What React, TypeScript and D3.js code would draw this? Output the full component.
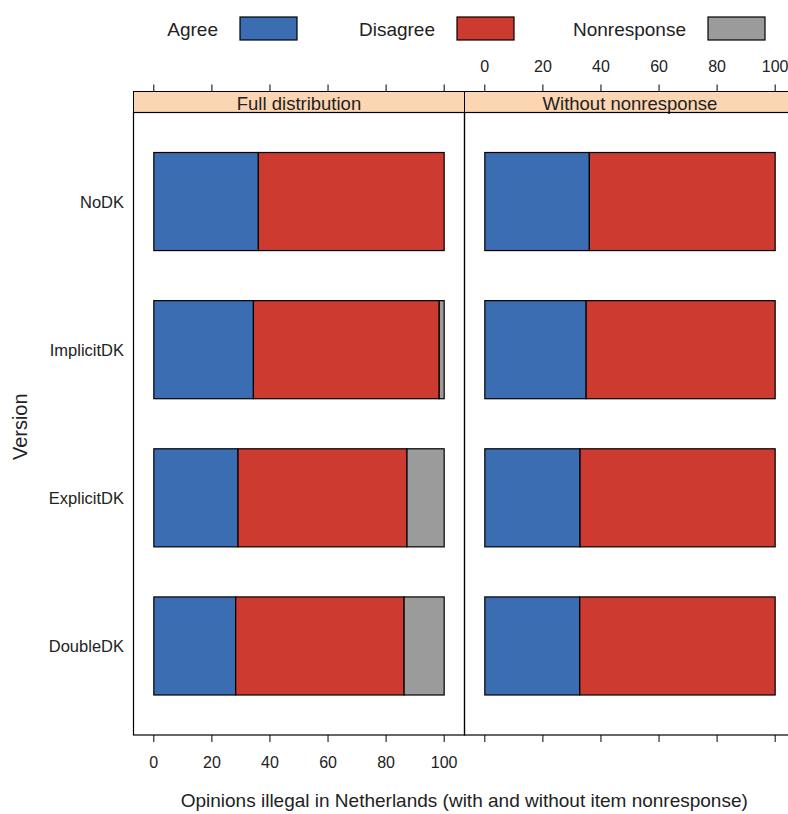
import React from "react";
import * as d3 from "d3";

// ---------- data ----------
const versions = ["NoDK", "ImplicitDK", "ExplicitDK", "DoubleDK"];
const responses = ["Agree", "Disagree", "Nonresponse"];
const fullAgree = [36.0, 34.3, 29.0, 28.2];
const fullDisagree = [64.0, 64.0, 58.2, 58.0];
const fullNonresponse = [0, 1.7, 12.8, 13.8];
const withoutAgree = [36.0, 34.9, 32.8, 32.7];
const withoutDisagree = [64.0, 65.1, 67.2, 67.3];
const withoutNonresponse = [0, 0, 0, 0];
const panelTitles = ["Full distribution", "Without nonresponse"];
const xTicks = [0, 20, 40, 60, 80, 100];
const xTitle = "Opinions illegal in Netherlands (with and without item nonresponse)";
const yTitle = "Version";

// ---------- styles ----------
const colors = ["#3a6db1", "#cc3a30", "#9b9b9b"];
const stripFill = "#fcd6b2";
const FONT = "'Liberation Sans', Arial, sans-serif";

const W = 788;
const H = 814;
const panelTop = 112.5;
const panelBottom = 735;
const stripTop = 91.5;
const panelXs = [
  [133.5, 464.5],
  [464.5, 795.5],
];
const legendBoxX = [240, 457, 708];

const panelData = [
  [fullAgree, fullDisagree, fullNonresponse],
  [withoutAgree, withoutDisagree, withoutNonresponse],
];

export default function App() {
  const y = d3
    .scaleBand<string>()
    .domain(versions)
    .range([panelTop, panelBottom])
    .paddingInner(0.338)
    .paddingOuter(0.27);

  const xScales = panelXs.map(([a, b]) =>
    d3.scaleLinear().domain([-7, 107]).range([a, b])
  );

  return (
    <svg
      width={W}
      height={H}
      style={{ position: "absolute", left: 0, top: 0, background: "#fff" }}
      fontFamily={FONT}
    >
      {/* legend */}
      {responses.map((r, i) => (
        <g key={r}>
          <text
            x={legendBoxX[i] - 22}
            y={29}
            textAnchor="end"
            dominantBaseline="central"
            fontSize={19}
            fill="#222"
          >
            {r}
          </text>
          <rect
            x={legendBoxX[i]}
            y={17}
            width={57}
            height={23}
            fill={colors[i]}
            stroke="#000"
            strokeWidth={1.2}
          />
        </g>
      ))}

      {panelXs.map(([x0, x1], p) => {
        const x = xScales[p];
        const stacks = panelData[p];
        return (
          <g key={p}>
            {/* strip */}
            <rect
              x={x0}
              y={stripTop}
              width={x1 - x0}
              height={panelTop - stripTop}
              fill={stripFill}
              stroke="#000"
              strokeWidth={1}
            />
            <text
              x={(x0 + x1) / 2}
              y={(stripTop + panelTop) / 2 + 1}
              textAnchor="middle"
              dominantBaseline="central"
              fontSize={18.5}
              fill="#222"
            >
              {panelTitles[p]}
            </text>
            {/* panel border */}
            <rect
              x={x0}
              y={panelTop}
              width={x1 - x0}
              height={panelBottom - panelTop}
              fill="none"
              stroke="#000"
              strokeWidth={1.2}
            />
            {/* bars */}
            {versions.map((v, vi) => {
              let cum = 0;
              return (
                <g key={v}>
                  {stacks.map((arr, si) => {
                    const start = cum;
                    cum += arr[vi];
                    if (arr[vi] <= 0) return null;
                    return (
                      <rect
                        key={si}
                        x={x(start)}
                        y={y(v)!}
                        width={x(cum) - x(start)}
                        height={y.bandwidth()}
                        fill={colors[si]}
                        stroke="#000"
                        strokeWidth={1.2}
                      />
                    );
                  })}
                </g>
              );
            })}
            {/* top ticks */}
            {xTicks.map((t) => (
              <line
                key={"tt" + t}
                x1={x(t)}
                x2={x(t)}
                y1={stripTop}
                y2={stripTop - 7}
                stroke="#000"
                strokeWidth={1}
              />
            ))}
            {/* bottom ticks */}
            {xTicks.map((t) => (
              <line
                key={"bt" + t}
                x1={x(t)}
                x2={x(t)}
                y1={panelBottom}
                y2={panelBottom + 7}
                stroke="#000"
                strokeWidth={1}
              />
            ))}
            {p === 1 &&
              xTicks.map((t) => (
                <text
                  key={"tl" + t}
                  x={x(t)}
                  y={66}
                  textAnchor="middle"
                  dominantBaseline="central"
                  fontSize={16}
                  fill="#222"
                >
                  {t}
                </text>
              ))}
            {p === 0 &&
              xTicks.map((t) => (
                <text
                  key={"bl" + t}
                  x={x(t)}
                  y={762}
                  textAnchor="middle"
                  dominantBaseline="central"
                  fontSize={16}
                  fill="#222"
                >
                  {t}
                </text>
              ))}
          </g>
        );
      })}

      {/* y labels */}
      {versions.map((v) => (
        <text
          key={v}
          x={124}
          y={y(v)! + y.bandwidth() / 2}
          textAnchor="end"
          dominantBaseline="central"
          fontSize={16.5}
          fill="#222"
        >
          {v}
        </text>
      ))}

      {/* axis titles */}
      <text
        x={(panelXs[0][0] + 775) / 2 + 10}
        y={800}
        textAnchor="middle"
        dominantBaseline="central"
        fontSize={19}
        fill="#222"
      >
        {xTitle}
      </text>
      <text
        transform={`translate(20, ${(panelTop + panelBottom) / 2 + 3}) rotate(-90)`}
        textAnchor="middle"
        dominantBaseline="central"
        fontSize={20}
        fill="#222"
      >
        {yTitle}
      </text>
    </svg>
  );
}
